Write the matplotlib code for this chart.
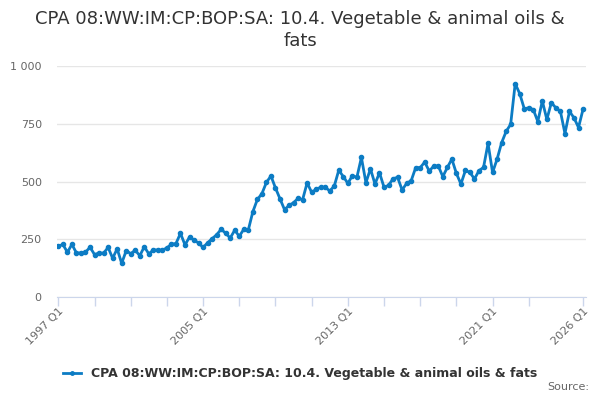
import matplotlib
matplotlib.use("Agg")
import matplotlib.pyplot as plt
import numpy as np

title = "CPA 08:WW:IM:CP:BOP:SA: 10.4. Vegetable & animal oils &\nfats"
series_name = "CPA 08:WW:IM:CP:BOP:SA: 10.4. Vegetable & animal oils & fats"

first_year = 1997
n_quarters = 117
quarters = [f"{first_year + i // 4} Q{i % 4 + 1}" for i in range(n_quarters)]

values = [
    220, 228, 194, 228, 191, 191, 194, 216, 184, 191, 190, 215,
    168, 209, 146, 201, 188, 203, 179, 218, 187, 204, 204, 203,
    213, 229, 232, 276, 226, 260, 247, 234, 215, 235, 253, 270,
    294, 276, 256, 290, 263, 294, 291, 370, 423, 448, 497, 525,
    473, 426, 379, 397, 409, 428, 422, 495, 454, 467, 476, 476,
    460, 481, 550, 522, 493, 526, 519, 605, 496, 556, 490, 539,
    476, 484, 513, 519, 464, 493, 504, 561, 561, 585, 546, 568,
    568, 522, 562, 598, 536, 490, 549, 540, 512, 548, 562, 666,
    540, 598, 669, 718, 749, 925, 882, 817, 820, 813, 761, 850,
    770, 843, 820, 805, 709, 805, 777, 735, 814,
]

label_idx = [0, 32, 64, 96, 116]
tick_idx = list(range(0, 105, 8)) + [116]
y_ticks = [0, 250, 500, 750, 1000]
y_labels = ["0", "250", "500", "750", "1 000"]

line_color = "#0c7cc4"
grid_color = "#e6e6e6"
axis_color = "#ccd6eb"

fig = plt.figure(figsize=(6, 4), dpi=100)
ax = fig.add_axes([0.095, 0.2575, 0.882, 0.5765])

x = np.arange(len(values))
ax.plot(x, values, color=line_color, lw=2, marker="o", ms=3, label=series_name)

ax.set_xlim(-0.3, 116.7)
ax.set_ylim(0, 1000)
ax.set_yticks(y_ticks)
ax.set_yticklabels(y_labels, color="#666666", fontsize=8)
ax.tick_params(axis="y", length=0, pad=11)
ax.yaxis.grid(True, color=grid_color, lw=1)
ax.set_axisbelow(True)

ax.set_xticks(tick_idx)
ax.set_xticklabels([quarters[i] if i in label_idx else "" for i in tick_idx],
                   rotation=45, ha="right", rotation_mode="anchor",
                   color="#666666", fontsize=8)
ax.tick_params(axis="x", length=6.5, color=axis_color, width=1, pad=0)

for side in ["top", "right", "left"]:
    ax.spines[side].set_visible(False)
ax.spines["bottom"].set_color(axis_color)

fig.text(0.5, 0.975, title, ha="center", va="top", fontsize=13,
         color="#333333", linespacing=1.25)

leg = fig.legend(loc="center", bbox_to_anchor=(0.5, 0.065), frameon=False,
                 handlelength=1.5, prop={"size": 9, "weight": "bold"})
for t in leg.get_texts():
    t.set_color("#333333")
for h in leg.legend_handles:
    h.set_markersize(2.5)

fig.text(0.982, 0.02, "Source:", ha="right", va="bottom", fontsize=8,
         color="#666666")

fig.savefig("out.png", dpi=100)
